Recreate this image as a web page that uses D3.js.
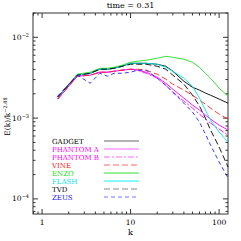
<!DOCTYPE html>
<html>
<head>
<meta charset="utf-8">
<script src="https://cdn.jsdelivr.net/npm/d3@7"></script>
<style>
  body { margin: 0; background: #fff; }
  text { font-family: "DejaVu Serif", "Liberation Serif", serif; }
</style>
</head>
<body>
<script>
const width = 241
const height = 241
const padding = { top: 13, right: 13, bottom: 27, left: 33 }

// wavenumber bins
const k = [1.5, 2.5, 3.5, 4.5, 5.5, 6.5, 8, 10, 12, 15, 20, 25, 30, 40, 50, 60, 70, 80, 100, 126]

const gadget = [1.82e-3, 3.40e-3, 3.59e-3, 4.03e-3, 4.03e-3, 4.14e-3, 4.38e-3, 4.77e-3, 4.77e-3, 4.77e-3, 4.64e-3, 4.38e-3, 3.80e-3, 2.86e-3, 2.41e-3, 2.22e-3, 2.04e-3, 1.92e-3, 1.72e-3, 1.53e-3]
const phantomA = [1.72e-3, 3.30e-3, 3.40e-3, 3.70e-3, 3.70e-3, 3.80e-3, 3.92e-3, 4.03e-3, 3.92e-3, 3.70e-3, 3.21e-3, 2.70e-3, 2.28e-3, 1.77e-3, 1.45e-3, 1.26e-3, 1.09e-3, 9.72e-4, 8.20e-4, 7.12e-4]
const phantomB = [1.72e-3, 3.30e-3, 3.40e-3, 3.70e-3, 3.70e-3, 3.80e-3, 3.92e-3, 4.03e-3, 3.92e-3, 3.59e-3, 3.12e-3, 2.55e-3, 2.09e-3, 1.62e-3, 1.33e-3, 1.12e-3, 9.72e-4, 8.68e-4, 7.31e-4, 6.17e-4]
const vine = [1.72e-3, 3.30e-3, 3.40e-3, 3.70e-3, 3.70e-3, 3.80e-3, 3.92e-3, 4.03e-3, 4.03e-3, 3.92e-3, 3.49e-3, 3.03e-3, 2.63e-3, 2.22e-3, 1.92e-3, 1.67e-3, 1.49e-3, 1.33e-3, 1.12e-3, 9.72e-4]
const enzo = [1.82e-3, 3.49e-3, 3.70e-3, 4.14e-3, 4.14e-3, 4.26e-3, 4.51e-3, 4.91e-3, 5.06e-3, 5.20e-3, 5.51e-3, 5.82e-3, 5.66e-3, 5.35e-3, 4.91e-3, 4.26e-3, 3.59e-3, 3.12e-3, 2.35e-3, 1.87e-3]
const flash = [1.82e-3, 3.40e-3, 3.59e-3, 4.03e-3, 4.03e-3, 4.14e-3, 4.38e-3, 4.77e-3, 4.77e-3, 4.77e-3, 4.64e-3, 4.26e-3, 3.80e-3, 3.12e-3, 2.48e-3, 1.77e-3, 1.26e-3, 9.45e-4, 6.72e-4, 5.06e-4]
const tvd = [1.82e-3, 3.40e-3, 3.59e-3, 4.03e-3, 4.03e-3, 4.14e-3, 4.38e-3, 4.64e-3, 4.64e-3, 4.64e-3, 4.38e-3, 4.03e-3, 3.40e-3, 2.63e-3, 1.92e-3, 1.41e-3, 1.00e-3, 7.12e-4, 4.39e-4, 2.48e-4]
const zeus = [1.87e-3, 3.40e-3, 2.70e-3, 3.59e-3, 3.30e-3, 3.59e-3, 3.59e-3, 3.70e-3, 3.92e-3, 3.92e-3, 3.12e-3, 2.55e-3, 2.09e-3, 1.53e-3, 1.19e-3, 8.93e-4, 6.34e-4, 4.64e-4, 2.86e-4, 1.82e-4]

const codes = ["GADGET", "PHANTOM A", "PHANTOM B", "VINE", "ENZO", "FLASH", "TVD", "ZEUS"]
const seriesValues = [gadget, phantomA, phantomB, vine, enzo, flash, tvd, zeus]
const colors = ["#000000", "#ff00ff", "#ff00ff", "#ff2020", "#22dd22", "#00e5e5", "#000000", "#2020ff"]
const legendColors = ["#666666", "#ff66ff", "#ff66ff", "#ff6666", "#99f099", "#88f8f8", "#888888", "#7777ff"]
const dashes = [null, null, "6,2,2,2", "6,3", null, null, "6,3", "4,3"]

const xDomain = [0.79, 126]
const yDomain = [6.5e-5, 0.02]
const xTickLabels = [1, 10, 100]
const yTickLabels = [1e-2, 1e-3, 1e-4]

const svg = d3.select("body").append("svg").attr("width", width).attr("height", height)

const scaleX = d3.scaleLog().domain(xDomain).range([padding.left, width - padding.right])
const scaleY = d3.scaleLog().domain(yDomain).range([height - padding.bottom, padding.top])

const x0 = scaleX.range()[0], x1 = scaleX.range()[1]
const y0 = scaleY.range()[0], y1 = scaleY.range()[1]

const isMajor = v => Math.abs(Math.log10(v) - Math.round(Math.log10(v))) < 1e-6

// frame
svg.append("rect").attr("x", x0).attr("y", y1).attr("width", x1 - x0).attr("height", y0 - y1)
  .style("fill", "none").style("stroke", "#333").style("stroke-width", 1)

// ticks on all four sides, pointing inward
scaleX.ticks().forEach(t => {
  const len = isMajor(t) ? 5 : 2.5
  const xp = scaleX(t)
  svg.append("line").attr("x1", xp).attr("x2", xp).attr("y1", y0).attr("y2", y0 - len).style("stroke", "#333")
  svg.append("line").attr("x1", xp).attr("x2", xp).attr("y1", y1).attr("y2", y1 + len).style("stroke", "#333")
})
scaleY.ticks().forEach(t => {
  const len = isMajor(t) ? 5 : 2.5
  const yp = scaleY(t)
  svg.append("line").attr("x1", x0).attr("x2", x0 + len).attr("y1", yp).attr("y2", yp).style("stroke", "#333")
  svg.append("line").attr("x1", x1).attr("x2", x1 - len).attr("y1", yp).attr("y2", yp).style("stroke", "#333")
})

xTickLabels.forEach(t => {
  svg.append("text").text(t).attr("x", scaleX(t)).attr("y", y0 + 11)
    .attr("text-anchor", "middle").style("font-size", "7.5px")
})
yTickLabels.forEach(t => {
  const lab = svg.append("text").attr("x", x0 - 4).attr("y", scaleY(t) + 2.5)
    .attr("text-anchor", "end").style("font-size", "7.5px")
  lab.append("tspan").text("10")
  lab.append("tspan").text("\u2212" + Math.round(-Math.log10(t))).attr("dy", -3).style("font-size", "5px")
})

// axis titles
svg.append("text").text("k").attr("x", (x0 + x1) / 2).attr("y", y0 + 21)
  .attr("text-anchor", "middle").style("font-size", "8px")
const yTitle = svg.append("text").attr("transform", `translate(10,${(y0 + y1) / 2 + 3}) rotate(-90)`)
  .attr("text-anchor", "middle").style("font-size", "7.5px")
yTitle.append("tspan").text("E(k)/k")
yTitle.append("tspan").text("\u22122.88").attr("dy", -3).style("font-size", "5px")

svg.append("text").text("time = 0.31").attr("x", (x0 + x1) / 2).attr("y", 8)
  .attr("text-anchor", "middle").style("font-size", "8px")

// curves
const line = d3.line().x((d, i) => scaleX(k[i])).y(d => scaleY(d))
seriesValues.forEach((vals, i) => {
  svg.append("path").attr("d", line(vals))
    .style("fill", "none")
    .style("stroke", colors[i])
    .style("stroke-width", 0.9)
    .style("stroke-dasharray", dashes[i])
})

// legend
codes.forEach((name, i) => {
  const yy = 141 + i * 8
  svg.append("text").text(name).attr("x", 52).attr("y", yy + 2.5)
    .style("font-size", "7px").style("fill", colors[i])
  svg.append("line").attr("x1", 104).attr("x2", 139).attr("y1", yy).attr("y2", yy)
    .style("stroke", legendColors[i])
    .style("stroke-width", (name === "ENZO" || name === "FLASH") ? 2 : 1)
    .style("stroke-dasharray", dashes[i])
})
</script>
</body>
</html>
